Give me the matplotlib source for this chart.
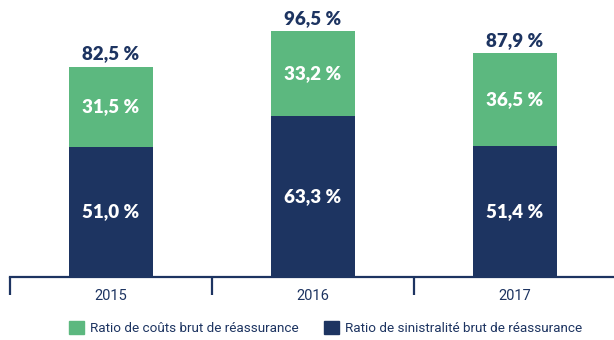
import matplotlib
matplotlib.use("Agg")
import matplotlib.pyplot as plt
from matplotlib.patches import Rectangle

years = ["2015", "2016", "2017"]
sinistralite = [51.0, 63.3, 51.4]
couts = [31.5, 33.2, 36.5]
totals = [82.5, 96.5, 87.9]

NAVY = "#1d3461"
GREEN = "#5cb87f"


def fmt(value: float) -> str:
    return f"{value:.1f}".replace(".", ",") + " %"


fig = plt.figure(figsize=(6.14, 3.40), dpi=100)
ax = fig.add_axes([10 / 614, 63 / 340, 606 / 614, 255 / 340])

x = list(range(len(years)))
width = 0.42
ax.bar(x, sinistralite, width=width, color=NAVY, zorder=2)
ax.bar(x, couts, width=width, bottom=sinistralite, color=GREEN, zorder=2)

label_style = dict(ha="center", fontsize=13.5, fontweight="heavy", family="Lato")
for xi, low, high, total in zip(x, sinistralite, couts, totals):
    ax.text(xi, low / 2, fmt(low), va="center", color="white", **label_style)
    ax.text(xi, low + high / 2, fmt(high), va="center", color="white", **label_style)
    ax.text(xi, total + 2.8, fmt(total), va="baseline", color=NAVY, clip_on=False,
            **label_style)

ax.set_xlim(-0.5, 2.5)
ax.set_ylim(0, 100)
for side in ("top", "right", "left"):
    ax.spines[side].set_visible(False)
ax.spines["bottom"].set_color(NAVY)
ax.spines["bottom"].set_linewidth(1.6)
ax.set_yticks([])

ax.set_xticks(x)
ax.set_xticklabels(years, fontsize=10.5, color=NAVY, family="Roboto")
ax.tick_params(axis="x", which="major", length=0, pad=9)
ax.set_xticks([-0.5, 0.5, 1.5, 2.5], minor=True)
ax.tick_params(axis="x", which="minor", length=13, width=1.6, color=NAVY, direction="out")

handles = [Rectangle((0, 0), 1, 1, color=GREEN), Rectangle((0, 0), 1, 1, color=NAVY)]
labels = ["Ratio de coûts brut de réassurance", "Ratio de sinistralité brut de réassurance"]
fig.legend(handles, labels, loc="lower center", bbox_to_anchor=(0.53, -0.02), ncol=2,
           frameon=False, handlelength=1.1, handleheight=1.1, handletextpad=0.45,
           columnspacing=1.9, prop={"family": "Roboto", "size": 9.7},
           labelcolor=NAVY)

fig.savefig("out.png", dpi=100)
